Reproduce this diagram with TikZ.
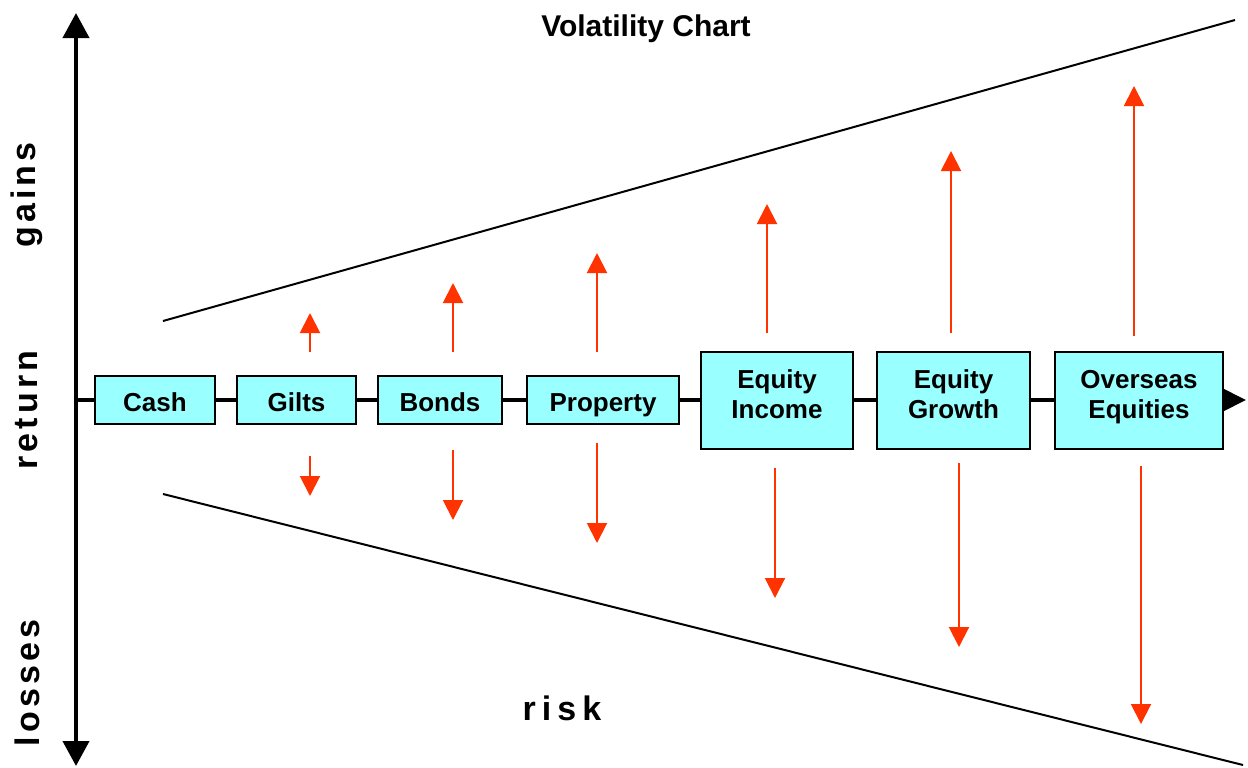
\documentclass[tikz,border=0pt]{standalone}
\usepackage{fontspec}
\setmainfont{Liberation Sans}
\usetikzlibrary{arrows.meta}
\definecolor{boxfill}{HTML}{99FFFF}
\definecolor{arrred}{HTML}{FF3300}
\begin{document}
\begin{tikzpicture}[x=0.5pt,y=-0.5pt,
  asset/.style={draw=black, line width=1pt, fill=boxfill, align=center, inner sep=0pt,
    font=\bfseries\fontsize{13}{15}\selectfont},
  lowbox/.style={asset, minimum height=24pt, text height=11pt, text depth=0pt},
  highbox/.style={asset, minimum height=48.5pt, text depth=6pt},
  axis/.style={line width=2pt, black},
  chain/.style={line width=2pt, black},
  funnel/.style={line width=1pt, black},
  swing/.style={line width=1pt, arrred, -{Triangle[width=10pt,length=10pt]}},
  sidelabel/.style={rotate=90, font=\bfseries\fontsize{17}{20}\selectfont\addfontfeature{LetterSpace=12}},
]
\useasboundingbox (0,0) rectangle (1248,767);

% title
\node[font=\bfseries\fontsize{15}{17}\selectfont] (title) at (646,29) {Volatility Chart};

% vertical axis
\coordinate (ytop) at (76,13);
\coordinate (ybot) at (76,766);
\draw[axis, {Triangle[width=13pt,length=12.5pt]}-{Triangle[width=13pt,length=12.5pt]}] (ybot) -- (ytop);

\node[sidelabel] (gains) at (27,195) {gains};
\node[sidelabel] (return) at (27,410) {return};
\node[sidelabel] (losses) at (27,683) {losses};
\node[font=\bfseries\fontsize{17}{20}\selectfont\addfontfeature{LetterSpace=18}] (risk) at (562,708) {risk};

% funnel lines
\coordinate (ua) at (163,321);
\coordinate (ub) at (1235,20);
\coordinate (la) at (163,494);
\coordinate (lb) at (1243,765);
\draw[funnel] (ua) -- (ub);
\draw[funnel] (la) -- (lb);

% boxes
\node[lowbox, minimum width=60pt] (cash) at (155,400) {Cash};
\node[lowbox, minimum width=59.5pt] (gilts) at (296.5,400) {Gilts};
\node[lowbox, minimum width=62pt] (bonds) at (440,400) {Bonds};
\node[lowbox, minimum width=76pt] (property) at (603,400) {Property};
\node[highbox, minimum width=76pt] (eqinc) at (777,400) {Equity\\Income};
\node[highbox, minimum width=76.5pt] (eqgro) at (953.5,400) {Equity\\Growth};
\node[highbox, minimum width=84pt] (overseas) at (1139,400) {Overseas\\Equities};

% chain line
\coordinate (hstart) at (78,400);
\coordinate (hend) at (1246,400);
\draw[chain] (hstart) -- (cash.west);
\draw[chain] (cash.east) -- (gilts.west);
\draw[chain] (gilts.east) -- (bonds.west);
\draw[chain] (bonds.east) -- (property.west);
\draw[chain] (property.east) -- (eqinc.west);
\draw[chain] (eqinc.east) -- (eqgro.west);
\draw[chain] (eqgro.east) -- (overseas.west);
\draw[chain, -{Triangle[width=11pt,length=11.5pt]}] (overseas.east) -- (hend);

% red swing arrows
\coordinate (g1) at (310,352); \coordinate (g2) at (310,313);
\coordinate (g3) at (310,456); \coordinate (g4) at (310,496);
\coordinate (b1) at (453,352); \coordinate (b2) at (453,283);
\coordinate (b3) at (453,450); \coordinate (b4) at (453,520);
\coordinate (p1) at (597,352); \coordinate (p2) at (597,253);
\coordinate (p3) at (597,443); \coordinate (p4) at (597,543);
\coordinate (i1) at (767,333); \coordinate (i2) at (767,204);
\coordinate (i3) at (775,468); \coordinate (i4) at (775,598);
\coordinate (r1) at (951,333); \coordinate (r2) at (951,151);
\coordinate (r3) at (959,463); \coordinate (r4) at (959,647);
\coordinate (o1) at (1134,336); \coordinate (o2) at (1134,86);
\coordinate (o3) at (1141,466); \coordinate (o4) at (1141,724);
\foreach \a in {g,b,p,i,r,o}{
  \draw[swing] (\a1) -- (\a2);
  \draw[swing] (\a3) -- (\a4);
}
\end{tikzpicture}
\end{document}
